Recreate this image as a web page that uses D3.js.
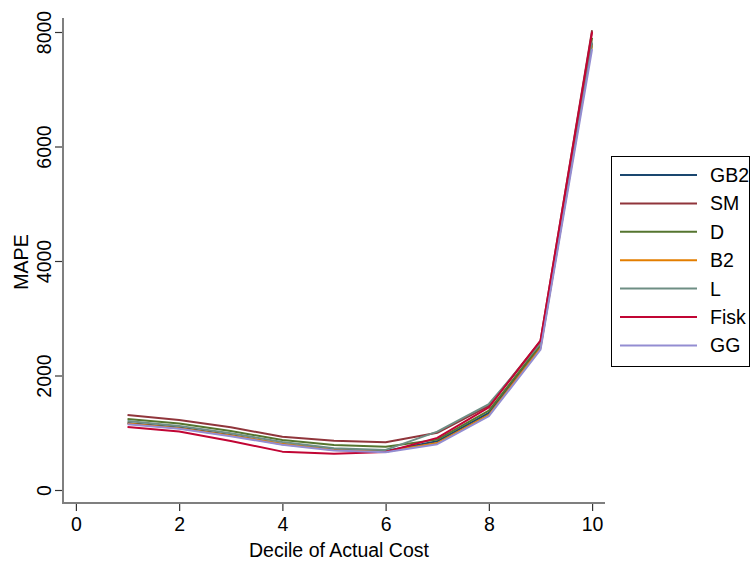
<!DOCTYPE html>
<html>
<head>
<meta charset="utf-8">
<script src="https://cdn.jsdelivr.net/npm/d3@7"></script>
<style>
  body { margin: 0; background: #fff; }
  text { font-family: "Liberation Sans", Arial, sans-serif; }
</style>
</head>
<body>
<script>
// Data
var deciles = [1, 2, 3, 4, 5, 6, 7, 8, 9, 10];
var seriesNames = ["GB2", "SM", "D", "B2", "L", "Fisk", "GG"];
var seriesColors = ["#1a476f", "#90353b", "#55752f", "#e37e00", "#6e8e84", "#c10534", "#938dd2"];
var gb2 = [1170, 1090, 960, 800, 710, 680, 850, 1345, 2500, 7800];
var sm = [1310, 1222, 1095, 931, 862, 833, 1000, 1470, 2600, 8030];
var dd = [1240, 1160, 1030, 873, 786, 757, 880, 1385, 2540, 7900];
var b2 = [1160, 1080, 950, 810, 700, 670, 820, 1310, 2480, 7780];
var ll = [1205, 1120, 990, 840, 730, 700, 1019, 1502, 2560, 7820];
var fisk = [1100, 1020, 856, 670, 634, 664, 910, 1444, 2610, 8000];
var gg = [1150, 1070, 940, 790, 690, 660, 800, 1290, 2450, 7700];
var xTicks = [0, 2, 4, 6, 8, 10];
var yTicks = [0, 2000, 4000, 6000, 8000];

var seriesValues = [gb2, sm, dd, b2, ll, fisk, gg];

var svgWidth = 753;
var svgHeight = 564;

var svg = d3.select("body")
  .append("svg")
  .attr("width", svgWidth)
  .attr("height", svgHeight);

// scales (plot region edges match the axis lines)
var xScale = d3.scaleLinear()
  .domain([-0.25, 10.25])
  .range([63, 605]);

var yScale = d3.scaleLinear()
  .domain([0, 8000])
  .range([490, 32]);

var fontSize = "19.5px";

// y axis
var yAxis = svg.append("g")
  .attr("transform", "translate(63,0)")
  .call(d3.axisLeft(yScale).tickValues(yTicks).tickSize(8).tickPadding(4).tickFormat(d3.format("d")));
yAxis.select(".domain").remove();
yAxis.selectAll(".tick line").attr("stroke", "#333").attr("stroke-width", 1.2);
yAxis.selectAll(".tick text")
  .attr("font-size", fontSize)
  .attr("fill", "#000")
  .attr("text-anchor", "middle")
  .attr("transform", "rotate(-90)")
  .attr("x", 0)
  .attr("y", -12)
  .attr("dy", 0);
svg.append("line")
  .attr("x1", 63).attr("x2", 63)
  .attr("y1", 18).attr("y2", 504)
  .attr("stroke", "#7f7f7f")
  .attr("stroke-width", 2);

// x axis
var xAxis = svg.append("g")
  .attr("transform", "translate(0,503)")
  .call(d3.axisBottom(xScale).tickValues(xTicks).tickSize(8).tickPadding(6).tickFormat(d3.format("d")));
xAxis.select(".domain").remove();
xAxis.selectAll(".tick line").attr("stroke", "#333").attr("stroke-width", 1.2);
xAxis.selectAll(".tick text")
  .attr("font-size", fontSize)
  .attr("fill", "#000")
  .attr("y", 28)
  .attr("dy", 0);
svg.append("line")
  .attr("x1", 62).attr("x2", 605)
  .attr("y1", 503).attr("y2", 503)
  .attr("stroke", "#7f7f7f")
  .attr("stroke-width", 2);

// axis titles
svg.append("text")
  .attr("x", 339)
  .attr("y", 557)
  .attr("text-anchor", "middle")
  .attr("font-size", fontSize)
  .text("Decile of Actual Cost");

svg.append("text")
  .attr("transform", "translate(28,262) rotate(-90)")
  .attr("text-anchor", "middle")
  .attr("font-size", fontSize)
  .text("MAPE");

// lines
var line = d3.line()
  .x(function(d, i) { return xScale(deciles[i]); })
  .y(function(d) { return yScale(d); });

seriesValues.forEach(function(vals, i) {
  svg.append("path")
    .attr("d", line(vals))
    .attr("fill", "none")
    .attr("stroke", seriesColors[i])
    .attr("stroke-width", 2)
    .attr("stroke-linejoin", "round");
});

// legend
var legend = svg.append("g");
legend.append("rect")
  .attr("x", 611.5)
  .attr("y", 156.5)
  .attr("width", 138)
  .attr("height", 210)
  .attr("fill", "#fff")
  .attr("stroke", "#000")
  .attr("stroke-width", 1);

seriesNames.forEach(function(name, i) {
  var y = 175 + i * 28.4;
  legend.append("line")
    .attr("x1", 620).attr("x2", 697)
    .attr("y1", y).attr("y2", y)
    .attr("stroke", seriesColors[i])
    .attr("stroke-width", 2);
  legend.append("text")
    .attr("x", 710)
    .attr("y", y + 7)
    .attr("font-size", fontSize)
    .text(name);
});
</script>
</body>
</html>
